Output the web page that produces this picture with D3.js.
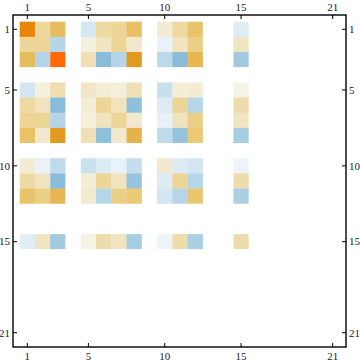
<!DOCTYPE html>
<html>
<head>
<meta charset="utf-8">
<script src="https://cdn.jsdelivr.net/npm/d3@7"></script>
<style>
  body { margin: 0; background: #fff; }
  text { font-family: "Liberation Serif", "DejaVu Serif", serif; font-size: 11px; fill: #222; }
</style>
</head>
<body>
<svg id="chart" width="360" height="363"></svg>
<script>
// matrix is 21 x 21, only these rows / columns hold non-zero entries
var n = 21;
var rowIdx = [1, 2, 3, 5, 6, 7, 8, 10, 11, 12, 15];
var colIdx = [1, 2, 3, 5, 6, 7, 8, 10, 11, 12, 15];
var tickVals = [1, 5, 10, 15, 21];

// values (one row per entry of rowIdx)
var row1  = [0.85, 0.30, 0.52, -0.17, 0.28, 0.32, 0.49, 0.09, 0.28, 0.46, -0.11];
var row2  = [0.32, 0.32, -0.32, 0.05, 0.16, 0.32, 0.12, -0.06, 0.17, 0.37, 0.16];
var row3  = [0.52, -0.32, 1.00, 0.21, -0.56, -0.32, 0.70, -0.29, -0.56, 0.56, -0.42];
var row5  = [-0.18, 0.05, 0.22, 0.14, 0.08, 0.06, 0.21, -0.23, 0.07, 0.09, 0.04];
var row6  = [0.27, 0.17, -0.56, 0.08, 0.32, 0.17, -0.52, -0.13, 0.32, -0.31, 0.24];
var row7  = [0.33, 0.32, -0.32, 0.05, 0.17, 0.32, 0.12, -0.07, 0.17, 0.37, 0.16];
var row8  = [0.48, 0.12, 0.70, 0.21, -0.52, 0.12, 0.60, -0.27, -0.48, 0.42, -0.40];
var row10 = [0.09, -0.06, -0.27, -0.22, -0.13, -0.06, -0.25, 0.12, -0.13, -0.18, -0.03];
var row11 = [0.27, 0.17, -0.55, 0.08, 0.32, 0.17, -0.48, -0.13, 0.32, -0.31, 0.24];
var row12 = [0.46, 0.37, 0.56, 0.10, -0.31, 0.37, 0.42, -0.18, -0.31, 0.44, -0.37];
var row15 = [-0.10, 0.16, -0.42, 0.04, 0.24, 0.16, -0.40, -0.03, 0.24, -0.37, 0.24];
var rows = [row1, row2, row3, row5, row6, row7, row8, row10, row11, row12, row15];

// flatten into cells, zeros everywhere else
var cells = [];
d3.range(1, n + 1).forEach(function(r) {
    d3.range(1, n + 1).forEach(function(c) {
        var ri = rowIdx.indexOf(r), ci = colIdx.indexOf(c);
        var v = (ri >= 0 && ci >= 0) ? rows[ri][ci] : 0;
        cells.push({ r: r, c: c, v: v });
    });
});

var svg = d3.select("#chart");
var frame = { x0: 13, x1: 346, y0: 15, y1: 347 };

var x = d3.scaleBand().domain(d3.range(1, n + 1)).range([19.7, 340.3]).padding(0);
var y = d3.scaleBand().domain(d3.range(1, n + 1)).range([21.7, 340.3]).padding(0);

// blue (negative) - white - orange (positive), roughly the MatrixPlot look
var color = d3.scaleLinear()
    .domain([-0.56, -0.48, -0.32, -0.18, -0.1, -0.03, 0, 0.05, 0.17, 0.32, 0.47, 0.6, 0.7, 0.85, 1.0])
    .range(["#88bcd8", "#96c4de", "#b4d5e7", "#d3e6f1", "#e1eef6", "#eef5f9", "#ffffff",
            "#f3f0dc", "#f1e3be", "#edd597", "#e8c367", "#e6b24c", "#e19a1e", "#e8850a", "#ff6a00"])
    .clamp(true);

svg.append("g")
    .selectAll("rect")
    .data(cells).enter()
    .append("rect")
    .attr("x", d => x(d.c))
    .attr("y", d => y(d.r))
    .attr("width", x.bandwidth() + 0.3)
    .attr("height", y.bandwidth() + 0.3)
    .attr("fill", d => color(d.v));

// frame
svg.append("rect")
    .attr("x", frame.x0).attr("y", frame.y0)
    .attr("width", frame.x1 - frame.x0).attr("height", frame.y1 - frame.y0)
    .attr("fill", "none").attr("stroke", "#000").attr("stroke-width", 1.4);

var cx = d => x(d) + x.bandwidth() / 2;
var cy = d => y(d) + y.bandwidth() / 2;
var tl = 4; // tick length, pointing inwards

var ticks = svg.append("g").attr("stroke", "#000").attr("stroke-width", 1);
tickVals.forEach(function(t) {
    ticks.append("line").attr("x1", cx(t)).attr("x2", cx(t)).attr("y1", frame.y0).attr("y2", frame.y0 + tl);
    ticks.append("line").attr("x1", cx(t)).attr("x2", cx(t)).attr("y1", frame.y1).attr("y2", frame.y1 - tl);
    ticks.append("line").attr("y1", cy(t)).attr("y2", cy(t)).attr("x1", frame.x0).attr("x2", frame.x0 + tl);
    ticks.append("line").attr("y1", cy(t)).attr("y2", cy(t)).attr("x1", frame.x1).attr("x2", frame.x1 - tl);
});

var labels = svg.append("g");
tickVals.forEach(function(t) {
    labels.append("text").attr("x", cx(t)).attr("y", 10.5).attr("text-anchor", "middle").text(t);
    labels.append("text").attr("x", cx(t)).attr("y", 360).attr("text-anchor", "middle").text(t);
    labels.append("text").attr("x", 10).attr("y", cy(t) + 3.8).attr("text-anchor", "end").text(t);
    labels.append("text").attr("x", 349).attr("y", cy(t) + 3.8).attr("text-anchor", "start").text(t);
});
</script>
</body>
</html>
